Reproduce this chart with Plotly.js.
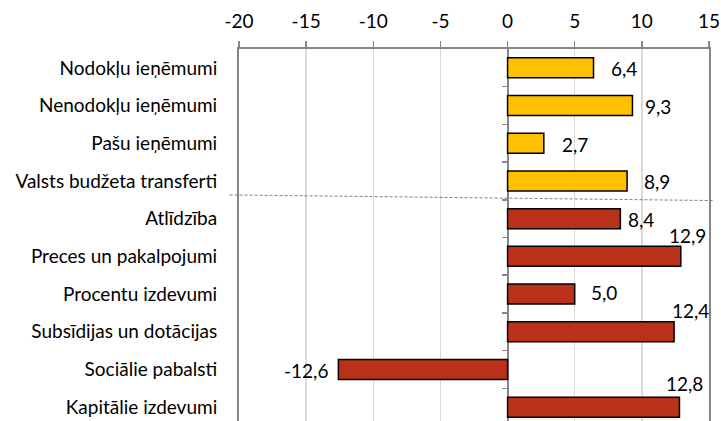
<!DOCTYPE html>
<html><head><meta charset="utf-8">
<script src="https://cdn.plot.ly/plotly-3.0.1.min.js"></script>
<style>html,body{margin:0;padding:0;overflow:hidden;background:#fff}#chart{width:721px;height:440px}</style>
</head><body><div id="chart"></div><script>
const categories = ['Nodokļu ieņēmumi','Nenodokļu ieņēmumi','Pašu ieņēmumi','Valsts budžeta transferti','Atlīdzība','Preces un pakalpojumi','Procentu izdevumi','Subsīdijas un dotācijas','Sociālie pabalsti','Kapitālie izdevumi'];
const values = [6.4, 9.3, 2.7, 8.9, 8.4, 12.9, 5.0, 12.4, -12.6, 12.8];
const groups = ['ieņēmumi','ieņēmumi','ieņēmumi','ieņēmumi','izdevumi','izdevumi','izdevumi','izdevumi','izdevumi','izdevumi'];
const xTickVals = [-20, -15, -10, -5, 0, 5, 10, 15];

// style only: label offsets in pixels relative to bar end
const groupColor = {'ieņēmumi':'#FFC000','izdevumi':'#BA3119'};
const labelStyle = [
  {dx:15, dy:-1, a:'left'},
  {dx:11, dy:-1, a:'left'},
  {dx:16, dy:-1, a:'left'},
  {dx:15, dy:-1, a:'left'},
  {dx:6,  dy:-1, a:'left'},
  {dx:7,  dy:21, a:'center'},
  {dx:14, dy:2,  a:'left'},
  {dx:16, dy:21, a:'center'},
  {dx:-8, dy:-1, a:'right'},
  {dx:5,  dy:24, a:'center'}
];
const FONT = 'Lato, "Open Sans", sans-serif';
const FS = 19;
const fmt = v => v.toFixed(1).replace('.', ',');

const bars = {
  type:'bar', orientation:'h', x:values, y:categories,
  marker:{color:groups.map(g=>groupColor[g]), line:{color:'#000', width:1.5}},
  hoverinfo:'skip', showlegend:false
};
const dummy = {type:'scatter', x:[], y:[], yaxis:'y2', showlegend:false, hoverinfo:'skip'};

const boundaries = categories.slice(1).map((c,i)=>i+0.5);
const annotations = values.map((v,i)=>({
  x:v, y:categories[i], xref:'x', yref:'y', text:fmt(v), showarrow:false,
  xanchor:labelStyle[i].a, yanchor:'middle', xshift:labelStyle[i].dx, yshift:labelStyle[i].dy,
  font:{family:FONT, size:FS, color:'#000'}
}));
const zeroPos = (0 - (-20)) / (15 - (-20));

const layout = {
  width:721, height:440,
  margin:{l:239, r:12, t:49, b:14},
  paper_bgcolor:'#fff', plot_bgcolor:'#fff',
  font:{family:FONT, size:FS, color:'#000'},
  bargap:0.47,
  xaxis:{side:'top', range:[-20,15], tickvals:xTickVals, ticktext:xTickVals.map(String),
    ticks:'outside', ticklen:6, tickwidth:1.5, tickcolor:'#868686',
    showline:true, linecolor:'#868686', linewidth:2, mirror:false,
    showgrid:true, gridcolor:'#d9d9d9', gridwidth:1.5,
    zeroline:true, zerolinecolor:'#868686', zerolinewidth:2, ticklabelstandoff:5,
    tickfont:{family:FONT, size:FS, color:'#000'}, fixedrange:true},
  yaxis:{type:'category', range:[9.5,-0.5], showline:true, mirror:true, linecolor:'#868686', linewidth:2,
    ticks:'', showgrid:false, zeroline:false, ticklabelstandoff:16,
    tickfont:{family:FONT, size:FS, color:'#000'}, fixedrange:true},
  yaxis2:{type:'linear', overlaying:'y', anchor:'free', position:zeroPos, side:'left',
    range:[9.5,-0.5], tickvals:boundaries, showticklabels:false, ticks:'outside', ticklen:6,
    tickwidth:1.5, tickcolor:'#868686', showline:false, showgrid:false, zeroline:false, fixedrange:true},
  shapes:[{type:'line', xref:'paper', yref:'y2', x0:-0.02, x1:1.008, y0:3.37, y1:3.52,
    line:{color:'#808080', width:1, dash:'3px,2px'}}],
  annotations:annotations
};
Plotly.newPlot('chart', [bars, dummy], layout, {displayModeBar:false, staticPlot:true});
</script></body></html>
